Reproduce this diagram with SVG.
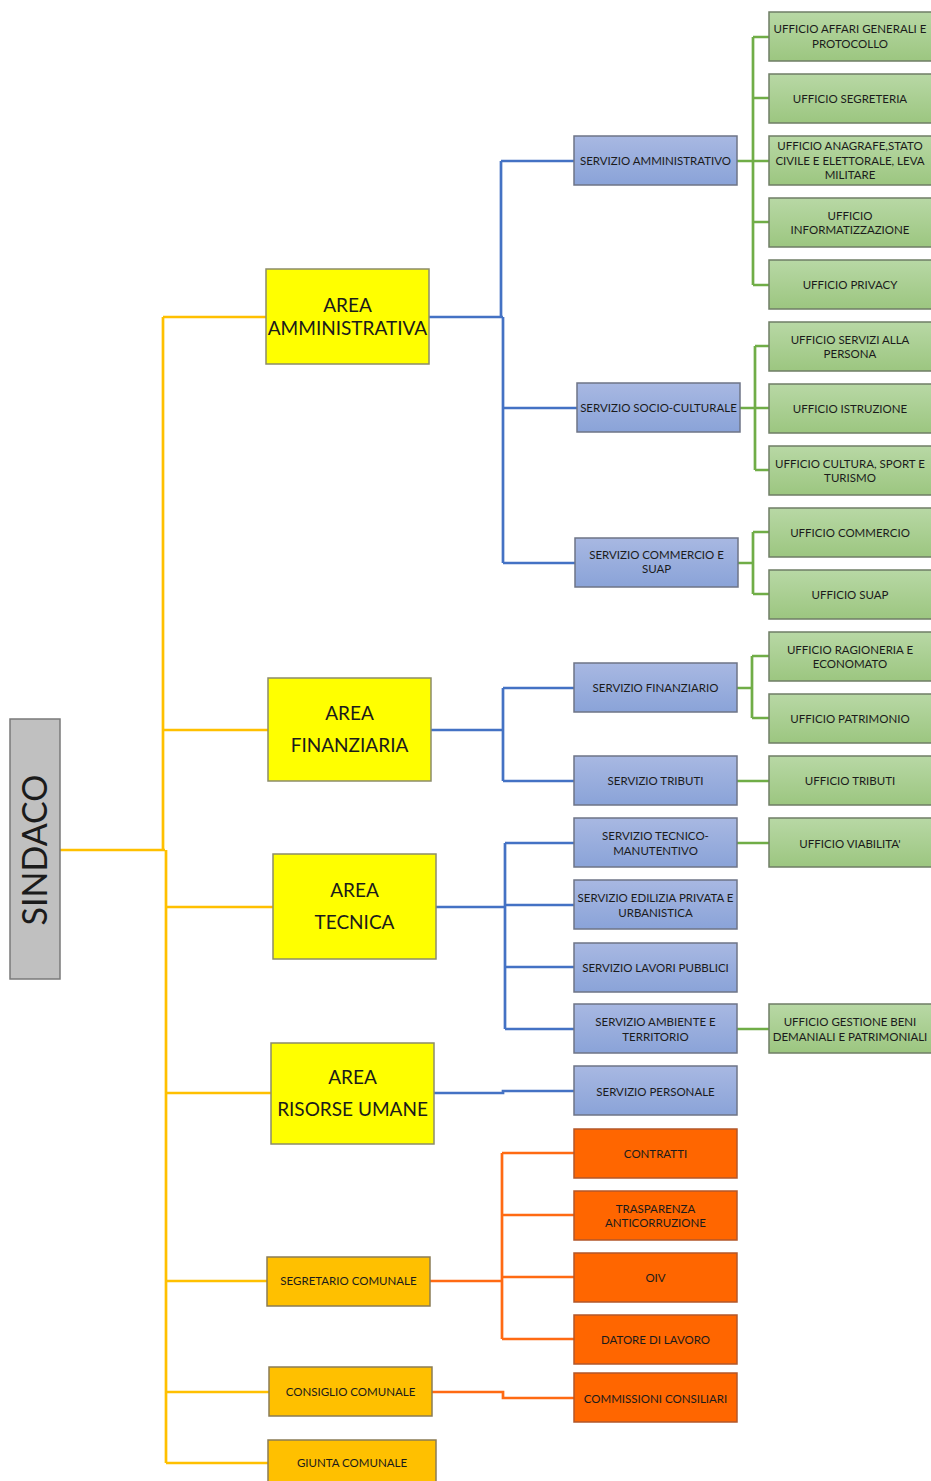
<svg xmlns="http://www.w3.org/2000/svg" width="931" height="1481" viewBox="0 0 931 1481">
<defs>
<linearGradient id="gBlue" x1="0" y1="0" x2="0" y2="1"><stop offset="0" stop-color="#a8b8e2"/><stop offset="1" stop-color="#8aa3d8"/></linearGradient>
<linearGradient id="gGreen" x1="0" y1="0" x2="0" y2="1"><stop offset="0" stop-color="#b8d8a5"/><stop offset="1" stop-color="#9cc680"/></linearGradient>
<style>
text{font-family:Lato,"Liberation Sans",sans-serif;fill:#1b1b1b;text-anchor:middle}
.s{font-size:11.5px}
.a{font-size:19px}
.big{font-size:34px}
.blue{fill:url(#gBlue);stroke:#6e7486;stroke-width:1.5}
.green{fill:url(#gGreen);stroke:#6f7d66;stroke-width:1.5}
.orange{fill:#ff6600;stroke:#b2572a;stroke-width:1.5}
.gold{fill:#ffc000;stroke:#8a7c55;stroke-width:1.5}
.yellow{fill:#ffff00;stroke:#8c8c6a;stroke-width:1.5}
.grey{fill:#c0c0c0;stroke:#7a7a7a;stroke-width:1.5}
.cy{fill:none;stroke:#ffc000;stroke-width:2.7}
.cb{fill:none;stroke:#4472c4;stroke-width:2.7}
.cg{fill:none;stroke:#70ad47;stroke-width:2.7}
.co{fill:none;stroke:#ff6a13;stroke-width:2.7}
</style>
</defs>
<g id="connectors">
<path class="cy" d="M60 850 H165" stroke-width="3.5"/>
<path class="cy" d="M163 317 V850"/>
<path class="cy" d="M166 850 V1463"/>
<path class="cy" d="M163 317 H266 M163 730 H268 M166 907 H273 M166 1093 H271 M166 1281 H267 M166 1392 H269 M166 1463 H268"/>
<path class="cb" d="M429 317 H503 M501 161 V317 M503 317 V563 M501 161 H574 M503 408 H577 M503 563 H575"/>
<path class="cb" d="M431 730 H503 M503 688 V781 M503 688 H574 M503 781 H574"/>
<path class="cb" d="M436 907 H505 M505 843 V1029 M505 843 H574 M505 905 H574 M505 967 H574 M505 1029 H574"/>
<path class="cb" d="M434 1093 H503 V1091 H574"/>
<path class="cg" d="M737 161 H753 M753 37 V285 M753 37 H769 M753 98 H769 M753 161 H769 M753 222 H769 M753 285 H769"/>
<path class="cg" d="M740 408 H755 M755 346 V470 M755 346 H769 M755 408 H769 M755 470 H769"/>
<path class="cg" d="M738 563 H753 M753 532 V594 M753 532 H769 M753 594 H769"/>
<path class="cg" d="M737 688 H752 M752 656 V718 M752 656 H769 M752 718 H769"/>
<path class="cg" d="M737 781 H769 M737 843 H769 M737 1029 H769"/>
<path class="co" d="M430 1281 H502 M502 1153 V1339 M502 1153 H574 M502 1215 H574 M502 1277 H574 M502 1339 H574"/>
<path class="co" d="M432 1392 H503 V1398 H574"/>
</g>
<g id="sindaco"><rect class="grey" x="10" y="719" width="50" height="260"/><text class="big" transform="translate(47 850) rotate(-90)">SINDACO</text></g>
<g id="area-amministrativa"><rect class="yellow" x="266" y="269" width="163" height="95"/><text class="a" x="347.5" y="312">AREA</text><text class="a" x="347.5" y="335">AMMINISTRATIVA</text></g>
<g id="area-finanziaria"><rect class="yellow" x="268" y="678" width="163" height="103"/><text class="a" x="349.5" y="720">AREA</text><text class="a" x="349.5" y="752">FINANZIARIA</text></g>
<g id="area-tecnica"><rect class="yellow" x="273" y="854" width="163" height="105"/><text class="a" x="354.5" y="897">AREA</text><text class="a" x="354.5" y="929">TECNICA</text></g>
<g id="area-risorse-umane"><rect class="yellow" x="271" y="1043" width="163" height="101"/><text class="a" x="352.5" y="1084">AREA</text><text class="a" x="352.5" y="1116">RISORSE UMANE</text></g>
<g id="segretario"><rect class="gold" x="267" y="1257" width="163" height="49"/><text class="s" x="348.5" y="1285">SEGRETARIO COMUNALE</text></g>
<g id="consiglio"><rect class="gold" x="269" y="1367" width="163" height="49"/><text class="s" x="350.5" y="1396">CONSIGLIO COMUNALE</text></g>
<g id="giunta"><rect class="gold" x="268" y="1440" width="168" height="49"/><text class="s" x="352" y="1467">GIUNTA COMUNALE</text></g>
<g id="serv-amministrativo"><rect class="blue" x="574" y="136" width="163" height="49"/><text class="s" x="655.5" y="164.5">SERVIZIO AMMINISTRATIVO</text></g>
<g id="serv-socio"><rect class="blue" x="577" y="383" width="163" height="49"/><text class="s" x="658.5" y="411.5">SERVIZIO SOCIO-CULTURALE</text></g>
<g id="serv-commercio"><rect class="blue" x="575" y="538" width="163" height="49"/><text class="s" x="656.5" y="559">SERVIZIO COMMERCIO E</text><text class="s" x="656.5" y="573">SUAP</text></g>
<g id="serv-finanziario"><rect class="blue" x="574" y="663" width="163" height="49"/><text class="s" x="655.5" y="691.5">SERVIZIO FINANZIARIO</text></g>
<g id="serv-tributi"><rect class="blue" x="574" y="756" width="163" height="49"/><text class="s" x="655.5" y="784.5">SERVIZIO TRIBUTI</text></g>
<g id="serv-tecnico"><rect class="blue" x="574" y="818" width="163" height="49"/><text class="s" x="655.5" y="839.5">SERVIZIO TECNICO-</text><text class="s" x="655.5" y="854.5">MANUTENTIVO</text></g>
<g id="serv-edilizia"><rect class="blue" x="574" y="880" width="163" height="49"/><text class="s" x="655.5" y="901.5">SERVIZIO EDILIZIA PRIVATA E</text><text class="s" x="655.5" y="916.5">URBANISTICA</text></g>
<g id="serv-lavori"><rect class="blue" x="574" y="943" width="163" height="49"/><text class="s" x="655.5" y="971.5">SERVIZIO LAVORI PUBBLICI</text></g>
<g id="serv-ambiente"><rect class="blue" x="574" y="1004" width="163" height="49"/><text class="s" x="655.5" y="1025.5">SERVIZIO AMBIENTE E</text><text class="s" x="655.5" y="1040.5">TERRITORIO</text></g>
<g id="serv-personale"><rect class="blue" x="574" y="1066" width="163" height="49"/><text class="s" x="655.5" y="1095.5">SERVIZIO PERSONALE</text></g>
<g id="contratti"><rect class="orange" x="574" y="1129" width="163" height="49"/><text class="s" x="655.5" y="1157.5">CONTRATTI</text></g>
<g id="trasparenza"><rect class="orange" x="574" y="1191" width="163" height="49"/><text class="s" x="655.5" y="1212.5">TRASPARENZA</text><text class="s" x="655.5" y="1226.5">ANTICORRUZIONE</text></g>
<g id="oiv"><rect class="orange" x="574" y="1253" width="163" height="49"/><text class="s" x="655.5" y="1281.5">OIV</text></g>
<g id="datore"><rect class="orange" x="574" y="1315" width="163" height="49"/><text class="s" x="655.5" y="1343.5">DATORE DI LAVORO</text></g>
<g id="commissioni"><rect class="orange" x="574" y="1373" width="163" height="49"/><text class="s" x="655.5" y="1402.5">COMMISSIONI CONSILIARI</text></g>
<g id="uff-affari"><rect class="green" x="769" y="12" width="164" height="49"/><text class="s" x="850" y="33">UFFICIO AFFARI GENERALI E</text><text class="s" x="850" y="47.5">PROTOCOLLO</text></g>
<g id="uff-segreteria"><rect class="green" x="769" y="74" width="164" height="49"/><text class="s" x="850" y="102.5">UFFICIO SEGRETERIA</text></g>
<g id="uff-anagrafe"><rect class="green" x="769" y="136" width="164" height="49"/><text class="s" x="850" y="150">UFFICIO ANAGRAFE,STATO</text><text class="s" x="850" y="164.5">CIVILE E ELETTORALE, LEVA</text><text class="s" x="850" y="179">MILITARE</text></g>
<g id="uff-informatizzazione"><rect class="green" x="769" y="198" width="164" height="49"/><text class="s" x="850" y="219.5">UFFICIO</text><text class="s" x="850" y="234">INFORMATIZZAZIONE</text></g>
<g id="uff-privacy"><rect class="green" x="769" y="260" width="164" height="49"/><text class="s" x="850" y="288.5">UFFICIO PRIVACY</text></g>
<g id="uff-persona"><rect class="green" x="769" y="322" width="164" height="49"/><text class="s" x="850" y="343.5">UFFICIO SERVIZI ALLA</text><text class="s" x="850" y="358">PERSONA</text></g>
<g id="uff-istruzione"><rect class="green" x="769" y="384" width="164" height="49"/><text class="s" x="850" y="412.5">UFFICIO ISTRUZIONE</text></g>
<g id="uff-cultura"><rect class="green" x="769" y="446" width="164" height="49"/><text class="s" x="850" y="467.5">UFFICIO CULTURA, SPORT E</text><text class="s" x="850" y="482">TURISMO</text></g>
<g id="uff-commercio"><rect class="green" x="769" y="508" width="164" height="49"/><text class="s" x="850" y="536.5">UFFICIO COMMERCIO</text></g>
<g id="uff-suap"><rect class="green" x="769" y="570" width="164" height="49"/><text class="s" x="850" y="598.5">UFFICIO SUAP</text></g>
<g id="uff-ragioneria"><rect class="green" x="769" y="632" width="164" height="49"/><text class="s" x="850" y="653.5">UFFICIO RAGIONERIA E</text><text class="s" x="850" y="668">ECONOMATO</text></g>
<g id="uff-patrimonio"><rect class="green" x="769" y="694" width="164" height="49"/><text class="s" x="850" y="722.5">UFFICIO PATRIMONIO</text></g>
<g id="uff-tributi"><rect class="green" x="769" y="756" width="164" height="49"/><text class="s" x="850" y="784.5">UFFICIO TRIBUTI</text></g>
<g id="uff-viabilita"><rect class="green" x="769" y="818" width="164" height="49"/><text class="s" x="850" y="847.5">UFFICIO VIABILITA'</text></g>
<g id="uff-beni"><rect class="green" x="769" y="1004" width="164" height="49"/><text class="s" x="850" y="1025.5">UFFICIO GESTIONE BENI</text><text class="s" x="850" y="1040.5">DEMANIALI E PATRIMONIALI</text></g>
</svg>
